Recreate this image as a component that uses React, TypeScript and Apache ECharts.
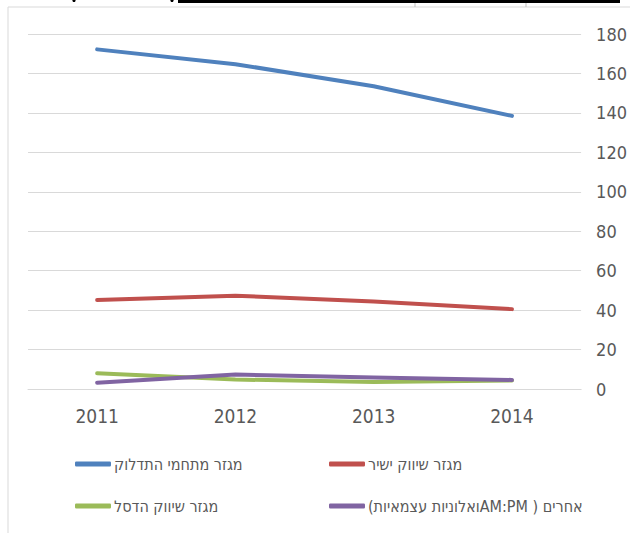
import React, { useEffect, useRef } from "react";
import * as echarts from "echarts";

const years = ["2011", "2012", "2013", "2014"];
const seriesNames = [
  "מגזר מתחמי התדלוק",
  "מגזר שיווק ישיר",
  "מגזר שיווק הדסל",
  "\u2067אחרים ( AM:PMואלוניות עצמאיות)\u2069",
];
const fuelStations = [172.2, 164.7, 153.5, 138.5];
const directMarketing = [45.1, 47.3, 44.4, 40.5];
const delekMarketing = [8.0, 4.8, 3.6, 4.3];
const others = [3.2, 7.3, 5.8, 4.6];
const colors = ["#4f81bd", "#c0504d", "#9bbb59", "#8064a2"];

const FONT = "'Liberation Sans Narrow', 'Arial Narrow', 'DejaVu Sans Condensed', 'Liberation Sans', sans-serif";

export default function App() {
  const ref = useRef<HTMLDivElement>(null);
  useEffect(() => {
    if (!ref.current) return;
    const chart = echarts.init(ref.current, undefined, { renderer: "svg" });
    const values = [fuelStations, directMarketing, delekMarketing, others];
    const legendPos = [
      { left: 75, top: 456 },
      { left: 329, top: 456 },
      { left: 75, top: 498 },
      { left: 329, top: 498 },
    ];
    chart.setOption({
      animation: false,
      backgroundColor: "#ffffff",
      color: colors,
      grid: { left: 28, right: 42, top: 34, height: 355 },
      xAxis: {
        type: "category",
        data: years,
        boundaryGap: true,
        axisLine: { show: true, lineStyle: { color: "#d9d9d9", width: 1 } },
        axisTick: { show: false },
        axisLabel: { color: "#595959", fontSize: 19, fontFamily: FONT, margin: 17 },
      },
      yAxis: {
        type: "value",
        position: "right",
        min: 0,
        max: 180,
        interval: 20,
        axisLine: { show: false },
        axisTick: { show: false },
        splitLine: { lineStyle: { color: "#d9d9d9", width: 1 } },
        axisLabel: { color: "#595959", fontSize: 18, fontFamily: FONT, margin: 15, align: "left" },
      },
      legend: seriesNames.map((n, i) => ({
        data: [n],
        left: legendPos[i].left,
        top: legendPos[i].top,
        icon: "roundRect",
        itemWidth: 36,
        itemHeight: 5,
        itemGap: 0,
        padding: 0,
        textStyle: { color: "#595959", fontSize: 16, fontFamily: FONT, padding: [0, 0, 0, -2] },
      })),
      series: seriesNames.map((n, i) => ({
        name: n,
        type: "line",
        data: values[i],
        symbol: "none",
        lineStyle: { width: 4, color: colors[i], cap: "round", join: "round" },
        itemStyle: { color: colors[i] },
      })),
      graphic: [
        { type: "rect", shape: { x: 8, y: 7, width: 640, height: 540 }, style: { fill: "none", stroke: "#d9d9d9", lineWidth: 1 }, silent: true },
        { type: "rect", shape: { x: 178, y: 0, width: 442, height: 3 }, style: { fill: "#000000" }, silent: true },
        { type: "circle", shape: { cx: 74, cy: 0.5, r: 1.6 }, style: { fill: "#000000" }, silent: true },
        { type: "circle", shape: { cx: 172, cy: 0.5, r: 1.6 }, style: { fill: "#000000" }, silent: true },
        { type: "line", shape: { x1: 415, y1: 3, x2: 415, y2: 7 }, style: { stroke: "#bfbfbf", lineWidth: 1 }, silent: true },
        { type: "line", shape: { x1: 526, y1: 3, x2: 526, y2: 7 }, style: { stroke: "#bfbfbf", lineWidth: 1 }, silent: true },
      ],
    });
    return () => chart.dispose();
  }, []);
  return (
    <div
      ref={ref}
      style={{ position: "fixed", left: 0, top: 0, width: 630, height: 533, background: "#fff" }}
    />
  );
}
